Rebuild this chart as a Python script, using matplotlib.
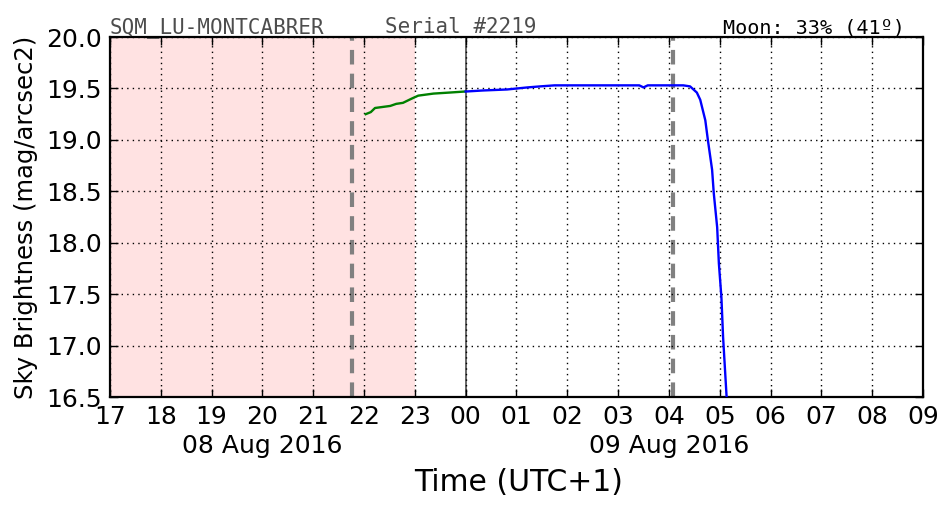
import matplotlib
matplotlib.use('Agg')
import matplotlib.pyplot as plt
import matplotlib.dates as mdates
import matplotlib.transforms as mtransforms
import pandas as pd

# readings before midnight (green) and after midnight (blue)
evening_times = ['2016-08-08 22:02', '2016-08-08 22:08', '2016-08-08 22:13', '2016-08-08 22:31',
                 '2016-08-08 22:38', '2016-08-08 22:46', '2016-08-08 22:56', '2016-08-08 23:04',
                 '2016-08-08 23:22', '2016-08-08 23:41', '2016-08-08 23:59']
evening_mag = [19.25, 19.27, 19.31, 19.33, 19.35, 19.36, 19.40, 19.43, 19.45, 19.46, 19.47]

morning_times = ['2016-08-09 00:00', '2016-08-09 00:20', '2016-08-09 00:49', '2016-08-09 01:13',
                 '2016-08-09 01:28', '2016-08-09 01:45', '2016-08-09 02:30', '2016-08-09 03:00',
                 '2016-08-09 03:25', '2016-08-09 03:30', '2016-08-09 03:35', '2016-08-09 04:00',
                 '2016-08-09 04:17', '2016-08-09 04:25', '2016-08-09 04:33', '2016-08-09 04:37',
                 '2016-08-09 04:43', '2016-08-09 04:46', '2016-08-09 04:51', '2016-08-09 04:53',
                 '2016-08-09 04:57', '2016-08-09 04:59', '2016-08-09 05:02', '2016-08-09 05:04',
                 '2016-08-09 05:08', '2016-08-09 05:09']
morning_mag = [19.47, 19.48, 19.49, 19.51, 19.52, 19.53, 19.53, 19.53,
               19.53, 19.51, 19.53, 19.53,
               19.53, 19.52, 19.46, 19.39,
               19.19, 19.00, 18.71, 18.48,
               18.15, 17.80, 17.47, 17.08,
               16.52, 16.40]

twilight_times = ['2016-08-08 21:46', '2016-08-09 04:05']
shade_span = ['2016-08-08 17:00', '2016-08-08 23:00']
midnight = '2016-08-09 00:00'
x_range = ['2016-08-08 17:00', '2016-08-09 09:00']
day_labels = ['08 Aug 2016', '09 Aug 2016']
day_label_pos = ['2016-08-08 20:00', '2016-08-09 04:00']

title_left = 'SQM_LU-MONTCABRER'
title_mid = 'Serial #2219'
title_right = 'Moon: 33% (41º)'

ev_t = pd.to_datetime(evening_times)
mo_t = pd.to_datetime(morning_times)

fig = plt.figure(figsize=(9.52, 5.12), dpi=100)
ax = fig.add_axes([0.1155, 0.2246, 0.854, 0.7031])

ax.axvspan(pd.Timestamp(shade_span[0]), pd.Timestamp(shade_span[1]), color='#ffe2e2', lw=0, zorder=0)
for t in twilight_times:
    ax.axvline(pd.Timestamp(t), color='0.5', lw=3, ls=(0, (3.5, 2.2)), zorder=1)
ax.axvline(pd.Timestamp(midnight), color='0.3', lw=1.2, zorder=1)

ax.plot(ev_t, evening_mag, color='green', lw=1.7, zorder=3)
ax.plot(mo_t, morning_mag, color='blue', lw=1.7, zorder=3)

ax.set_xlim(pd.Timestamp(x_range[0]), pd.Timestamp(x_range[1]))
ax.set_ylim(16.5, 20.0)
ax.set_yticks([16.5, 17.0, 17.5, 18.0, 18.5, 19.0, 19.5, 20.0])
ax.yaxis.set_major_formatter(plt.FormatStrFormatter('%.1f'))
ax.xaxis.set_major_locator(mdates.HourLocator())
ax.xaxis.set_major_formatter(mdates.DateFormatter('%H'))

ax.grid(True, color='k', ls=(0, (1, 3)), lw=1)
ax.tick_params(direction='in', length=6, width=1, top=True, right=True, labelsize=18, pad=6)
for s in ax.spines.values():
    s.set_linewidth(1.6)

trans = mtransforms.blended_transform_factory(ax.transData, ax.transAxes)
for lab, pos in zip(day_labels, day_label_pos):
    ax.text(pd.Timestamp(pos), -0.135, lab, transform=trans, ha='center', va='center', fontsize=18)

ax.set_ylabel('Sky Brightness (mag/arcsec2)', fontsize=17.5, labelpad=6)
fig.text(0.545, 0.058, 'Time (UTC+1)', ha='center', va='center', fontsize=21.5)

fig.text(0.1155, 0.9355, title_left, family='DejaVu Sans Mono', fontsize=15, color='0.3', va='baseline')
fig.text(0.404, 0.9355, title_mid, family='DejaVu Sans Mono', fontsize=15, color='0.3', va='baseline')
fig.text(0.951, 0.9355, title_right, family='DejaVu Sans Mono', fontsize=14.5, color='k', va='baseline', ha='right')

fig.savefig('out.png', dpi=100)
